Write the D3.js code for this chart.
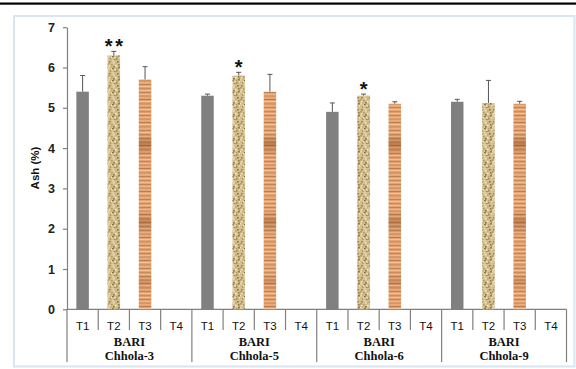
<!DOCTYPE html>
<html>
<head>
<meta charset="utf-8">
<script src="https://cdn.jsdelivr.net/npm/d3@7"></script>
<style>
  html, body { margin: 0; padding: 0; background: #fff; }
  svg { display: block; }
</style>
</head>
<body>
<svg id="chart" width="576" height="369"></svg>
<script>
// Ash content (%) of chickpea varieties under treatments T1–T4
const varieties = ["BARI Chhola-3", "BARI Chhola-5", "BARI Chhola-6", "BARI Chhola-9"];
const treatments = ["T1", "T2", "T3", "T4"];
// mean values per variety, in treatment order (T4 has no bar)
const ashMean = [
  [5.4, 6.3, 5.7, null],
  [5.3, 5.8, 5.4, null],
  [4.9, 5.3, 5.1, null],
  [5.15, 5.12, 5.1, null]
];
// standard error (upper whisker length)
const ashErr = [
  [0.4, 0.1, 0.32, null],
  [0.04, 0.08, 0.43, null],
  [0.22, 0.04, 0.05, null],
  [0.06, 0.56, 0.06, null]
];
// significance marks placed above bars
const signif = [
  [null, "**", null, null],
  [null, "*", null, null],
  [null, "*", null, null],
  [null, null, null, null]
];
const yTicks = [0, 1, 2, 3, 4, 5, 6, 7];

const svg = d3.select("#chart");
const W = 576, H = 369;
const plotBottom = 309.3;

// page rule and light frame
svg.append("rect").attr("x", 0).attr("y", 2.5).attr("width", W).attr("height", 2.2).attr("fill", "#000");
svg.append("rect").attr("x", 14).attr("y", 16).attr("width", 560.5).attr("height", 350.5)
  .attr("fill", "none").attr("stroke", "#dbe5f1").attr("stroke-width", 2);

// textures
const defs = svg.append("defs");
// T2: sandy speckled fill
const sand = defs.append("pattern").attr("id", "sand").attr("patternUnits", "userSpaceOnUse")
  .attr("width", 12).attr("height", 12);
sand.append("rect").attr("width", 12).attr("height", 12).attr("fill", "#d3bf8f");
const specks = [
  [1,1,"#9c8350"],[5,2,"#ece0bf"],[9,1,"#8a7142"],[3,4,"#b49a66"],[7,5,"#f0e6cb"],[10,4,"#947b4a"],
  [0,7,"#e6d8b2"],[4,8,"#7f6738"],[8,8,"#bca473"],[11,9,"#eadfbe"],[2,10,"#a88e5b"],[6,11,"#987f4e"],
  [5,6,"#8a7242"],[9,11,"#cbb684"],[1,5,"#eee3c6"],[11,6,"#ad9564"],[7,2,"#c0a978"],[3,9,"#ede3c6"],
  [0,3,"#b29a68"],[6,9,"#e8dcb9"],[10,7,"#8c7444"],[4,0,"#e3d5ad"],[8,10,"#a58c5a"],[2,6,"#c9b482"]
];
specks.forEach(([x, y, c]) => sand.append("rect").attr("x", x).attr("y", y).attr("width", 1.6).attr("height", 1.6).attr("fill", c));

// T3: horizontal wood-grain stripes
const wood = defs.append("pattern").attr("id", "wood").attr("patternUnits", "userSpaceOnUse")
  .attr("width", 20).attr("height", 23);
wood.append("rect").attr("width", 20).attr("height", 23).attr("fill", "#e2a272");
const stripes = [
  [0,1,"#c5844f"],[2,0.8,"#f0bd94"],[3.5,1.2,"#d0905f"],[5.5,0.8,"#ecb48a"],[7,1,"#bd7c49"],
  [9,1,"#f2c29c"],[11,1.5,"#d3945f"],[13.5,0.8,"#eeb88f"],[15,1,"#c3834f"],[17,1,"#f0bf98"],
  [19,1.2,"#cc8c59"],[21.2,0.8,"#f3c7a2"]
];
stripes.forEach(([y, h, c]) => wood.append("rect").attr("x", 0).attr("y", y).attr("width", 20).attr("height", h).attr("fill", c));
// darker grain bands along the bar
const band = defs.append("linearGradient").attr("id", "woodBand")
  .attr("gradientUnits", "userSpaceOnUse").attr("x1", 0).attr("y1", 50).attr("x2", 0).attr("y2", 310);
[[0,0],[0.32,0],[0.36,0.4],[0.41,0],[0.62,0],[0.66,0.35],[0.71,0],[0.86,0],[0.89,0.2],[0.93,0],[1,0]]
  .forEach(([o, a]) => band.append("stop").attr("offset", o).attr("stop-color", "#7e3f14").attr("stop-opacity", a));

const fills = ["#808080", "url(#sand)", "url(#wood)", "none"];

// scales
const slots = [];
varieties.forEach((v, gi) => treatments.forEach((t, ti) => slots.push(gi + "|" + t)));
const x = d3.scaleBand().domain(slots).range([67, 566.5]).paddingInner(0).paddingOuter(0);
const y = d3.scaleLinear().domain([0, 7]).range([plotBottom, 27.2]);

// y axis
const yAxis = svg.append("g").attr("transform", `translate(${67},0)`)
  .call(d3.axisLeft(y).tickValues(yTicks).tickFormat(d3.format("d")).tickSize(4).tickSizeOuter(0));
yAxis.select(".domain").attr("stroke", "#808080").attr("stroke-width", 1.2);
yAxis.selectAll(".tick line").attr("stroke", "#808080").attr("stroke-width", 1.2);
yAxis.selectAll(".tick text").attr("x", -12).attr("font-family", "Liberation Sans, Arial, sans-serif")
  .attr("font-size", 12.5).attr("font-weight", "bold").attr("fill", "#222");

svg.append("text").attr("transform", `translate(39,168) rotate(-90)`).attr("text-anchor", "middle")
  .attr("font-family", "Liberation Sans, Arial, sans-serif").attr("font-size", 11.5).attr("font-weight", "bold")
  .attr("fill", "#111").text("Ash (%)");

// x axis line
svg.append("line").attr("x1", 67).attr("x2", 566.5).attr("y1", plotBottom).attr("y2", plotBottom)
  .attr("stroke", "#808080").attr("stroke-width", 1.2);

// category separators: short between treatments, long between varieties
slots.forEach((s, i) => {
  const xs = x(s);
  const long = i % 4 === 0;
  svg.append("line").attr("x1", xs).attr("x2", xs).attr("y1", plotBottom).attr("y2", long ? 362 : 330)
    .attr("stroke", "#808080").attr("stroke-width", 1.2);
});
svg.append("line").attr("x1", 566.5).attr("x2", 566.5).attr("y1", plotBottom).attr("y2", 362)
  .attr("stroke", "#808080").attr("stroke-width", 1.2);

// treatment labels
svg.append("g").selectAll("text").data(slots).join("text")
  .attr("x", d => x(d) + x.bandwidth() / 2).attr("y", 330)
  .attr("text-anchor", "middle").attr("font-family", "Liberation Sans, Arial, sans-serif")
  .attr("font-size", 11.5).attr("fill", "#111").text(d => d.split("|")[1]);

// variety labels (two lines)
varieties.forEach((v, gi) => {
  const cx = (x(gi + "|T1") + x(gi + "|T4") + x.bandwidth()) / 2;
  const parts = v.split(" ");
  const t = svg.append("text").attr("text-anchor", "middle").attr("font-family", "Liberation Serif, Times New Roman, serif")
    .attr("font-size", 12.5).attr("font-weight", "bold").attr("fill", "#111");
  t.append("tspan").attr("x", cx).attr("y", 346).text(parts[0]);
  t.append("tspan").attr("x", cx).attr("y", 360).text(parts[1]);
});

// bars, whiskers and significance marks
const barW = x.bandwidth() * 0.4;
const bars = [];
varieties.forEach((v, gi) => treatments.forEach((t, ti) => {
  if (ashMean[gi][ti] == null) return;
  bars.push({ key: gi + "|" + t, ti, v: ashMean[gi][ti], e: ashErr[gi][ti], s: signif[gi][ti] });
}));

const g = svg.append("g");
bars.forEach(b => {
  const cx = x(b.key) + x.bandwidth() / 2;
  // whisker
  g.append("line").attr("x1", cx).attr("x2", cx).attr("y1", y(b.v)).attr("y2", y(b.v + b.e))
    .attr("stroke", "#555").attr("stroke-width", 1);
  g.append("line").attr("x1", cx - 2.5).attr("x2", cx + 2.5).attr("y1", y(b.v + b.e)).attr("y2", y(b.v + b.e))
    .attr("stroke", "#555").attr("stroke-width", 1);
  // bar
  g.append("rect").attr("x", cx - barW / 2).attr("y", y(b.v)).attr("width", barW).attr("height", plotBottom - y(b.v))
    .attr("fill", fills[b.ti]);
  if (b.ti === 2) {
    g.append("rect").attr("x", cx - barW / 2).attr("y", y(b.v)).attr("width", barW).attr("height", plotBottom - y(b.v))
      .attr("fill", "url(#woodBand)");
  }
  if (b.s) {
    const top = y(b.v + b.e);
    const marks = b.s.split("");
    const gap = 10.5;
    marks.forEach((m, k) => {
      g.append("text").attr("x", cx + (k - (marks.length - 1) / 2) * gap).attr("y", top + 2)
        .attr("text-anchor", "middle")
        .attr("font-family", "Liberation Sans, Arial, sans-serif").attr("font-size", 20).attr("font-weight", "bold")
        .attr("fill", "#111").text(m);
    });
  }
});
</script>
</body>
</html>
